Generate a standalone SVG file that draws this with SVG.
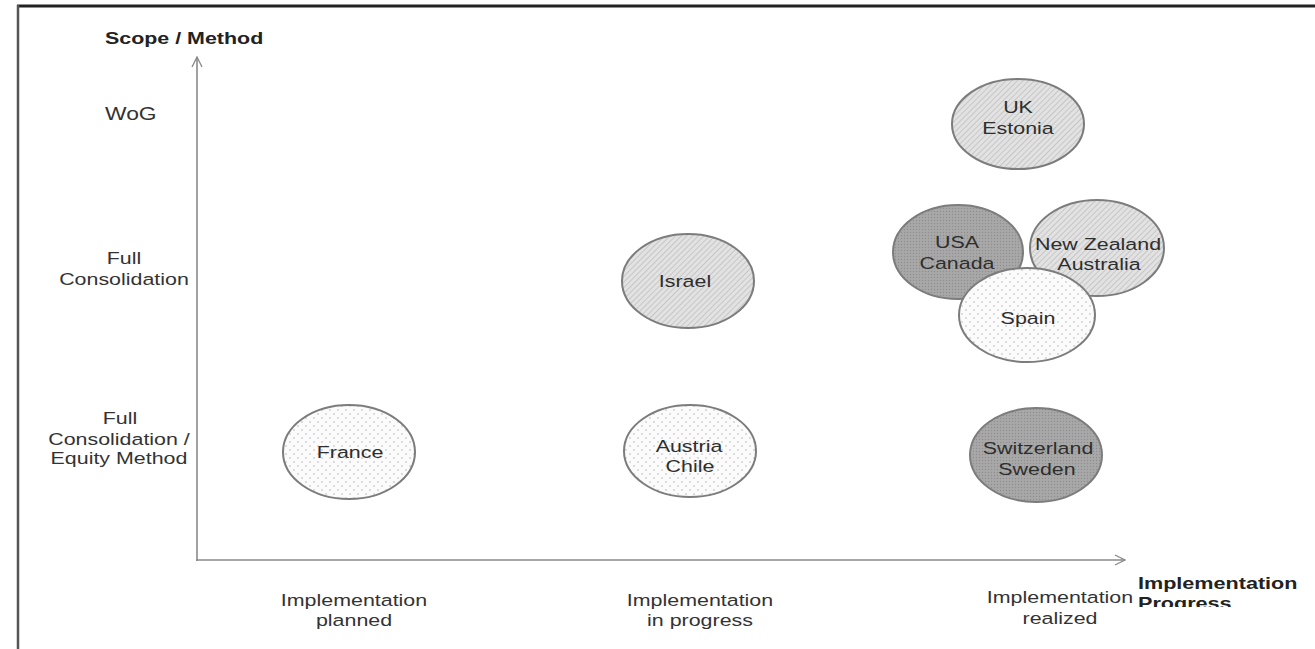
<svg xmlns="http://www.w3.org/2000/svg" width="1315" height="649" viewBox="0 0 1315 649">
<defs>
<pattern id="hatch" width="4" height="4" patternUnits="userSpaceOnUse" patternTransform="rotate(45)">
<rect width="4" height="4" fill="#e2e2e2"/>
<line x1="0" y1="0" x2="0" y2="4" stroke="#bdbdbd" stroke-width="1.5"/>
</pattern>
<pattern id="dots" width="8" height="8" patternUnits="userSpaceOnUse">
<rect width="8" height="8" fill="#fbfbfb"/>
<circle cx="2" cy="2" r="0.8" fill="#b5b5b5"/>
<circle cx="6" cy="6" r="0.8" fill="#b5b5b5"/>
</pattern>
<pattern id="dark" width="3" height="3" patternUnits="userSpaceOnUse">
<rect width="3" height="3" fill="#a8a8a8"/>
<circle cx="1.5" cy="1.5" r="0.7" fill="#8e8e8e"/>
</pattern>
<marker id="arr" viewBox="0 0 12 12" refX="11" refY="6" markerWidth="12" markerHeight="12" markerUnits="userSpaceOnUse" orient="auto">
<path d="M1,1 L11,6 L1,11" fill="none" stroke="#888" stroke-width="1.3"/>
</marker>
<clipPath id="cut"><rect x="1100" y="560" width="215" height="47"/></clipPath>
<style>
.lbl{font-family:"Liberation Sans",Arial,sans-serif;font-size:17px;fill:#333;text-anchor:middle}
.ax{font-family:"Liberation Sans",Arial,sans-serif;font-size:17px;fill:#222;font-weight:bold}
.node{stroke:#7c7c7c;stroke-width:2}
.nt{font-family:"Liberation Sans",Arial,sans-serif;font-size:17px;fill:#2e2e2e;text-anchor:middle}
.axis{stroke:#8a8a8a;stroke-width:1.6;fill:none}
</style>
</defs>
<rect width="1315" height="649" fill="#fff"/>
<g id="frame">
<line x1="17" y1="6" x2="1315" y2="6" stroke="#222" stroke-width="3"/>
<line x1="18" y1="5" x2="18" y2="649" stroke="#555" stroke-width="2.5"/>
</g>
<g id="connectors">
<line class="axis" x1="197" y1="561" x2="197" y2="57" marker-end="url(#arr)"/>
<line class="axis" x1="196" y1="560" x2="1125" y2="560" marker-end="url(#arr)"/>
</g>
<g id="axis-labels">
<text class="ax" transform="translate(105,44) scale(1.26,1)">Scope / Method</text>
<g clip-path="url(#cut)">
<text class="ax" transform="translate(1138,589) scale(1.27,1)">Implementation</text>
<text class="ax" transform="translate(1138,609) scale(1.27,1)">Progress</text>
</g>
<text class="lbl" transform="translate(105,120) scale(1.27,1)" style="text-anchor:start;font-size:18px">WoG</text>
<text class="lbl" transform="translate(124,264) scale(1.26,1)">Full</text>
<text class="lbl" transform="translate(124,285) scale(1.26,1)">Consolidation</text>
<text class="lbl" transform="translate(120,424) scale(1.26,1)">Full</text>
<text class="lbl" transform="translate(119,445) scale(1.26,1)">Consolidation /</text>
<text class="lbl" transform="translate(119,464) scale(1.26,1)">Equity Method</text>
<text class="lbl" transform="translate(354,606) scale(1.26,1)">Implementation</text>
<text class="lbl" transform="translate(354,626) scale(1.26,1)">planned</text>
<text class="lbl" transform="translate(700,606) scale(1.26,1)">Implementation</text>
<text class="lbl" transform="translate(700,626) scale(1.26,1)">in progress</text>
<text class="lbl" transform="translate(1060,603) scale(1.26,1)">Implementation</text>
<text class="lbl" transform="translate(1060,624) scale(1.26,1)">realized</text>
</g>
<g id="uk-estonia">
<ellipse class="node" cx="1018" cy="124" rx="66" ry="45" fill="url(#hatch)"/>
<text class="nt" transform="translate(1018,113) scale(1.26,1)">UK</text>
<text class="nt" transform="translate(1018,134) scale(1.26,1)">Estonia</text>
</g>
<g id="usa-canada">
<ellipse class="node" cx="958" cy="252" rx="65" ry="47" fill="url(#dark)"/>
<text class="nt" transform="translate(957,248) scale(1.26,1)">USA</text>
<text class="nt" transform="translate(957,269) scale(1.26,1)">Canada</text>
</g>
<g id="nz-australia">
<ellipse class="node" cx="1097" cy="248" rx="67" ry="48" fill="url(#hatch)"/>
<text class="nt" transform="translate(1098,250) scale(1.26,1)">New Zealand</text>
<text class="nt" transform="translate(1099,270) scale(1.26,1)">Australia</text>
</g>
<g id="spain">
<ellipse class="node" cx="1027" cy="315" rx="68" ry="47" fill="url(#dots)"/>
<text class="nt" transform="translate(1028,324) scale(1.26,1)">Spain</text>
</g>
<g id="israel">
<ellipse class="node" cx="688" cy="281" rx="66" ry="47" fill="url(#hatch)"/>
<text class="nt" transform="translate(685,287) scale(1.26,1)">Israel</text>
</g>
<g id="austria-chile">
<ellipse class="node" cx="690" cy="451" rx="66" ry="46" fill="url(#dots)"/>
<text class="nt" transform="translate(689,452) scale(1.26,1)">Austria</text>
<text class="nt" transform="translate(690,472) scale(1.26,1)">Chile</text>
</g>
<g id="france">
<ellipse class="node" cx="349" cy="452" rx="66" ry="47" fill="url(#dots)"/>
<text class="nt" transform="translate(350,458) scale(1.26,1)">France</text>
</g>
<g id="switzerland-sweden">
<ellipse class="node" cx="1036" cy="455" rx="66" ry="47" fill="url(#dark)"/>
<text class="nt" transform="translate(1038,454) scale(1.26,1)">Switzerland</text>
<text class="nt" transform="translate(1037,475) scale(1.26,1)">Sweden</text>
</g>
</svg>
